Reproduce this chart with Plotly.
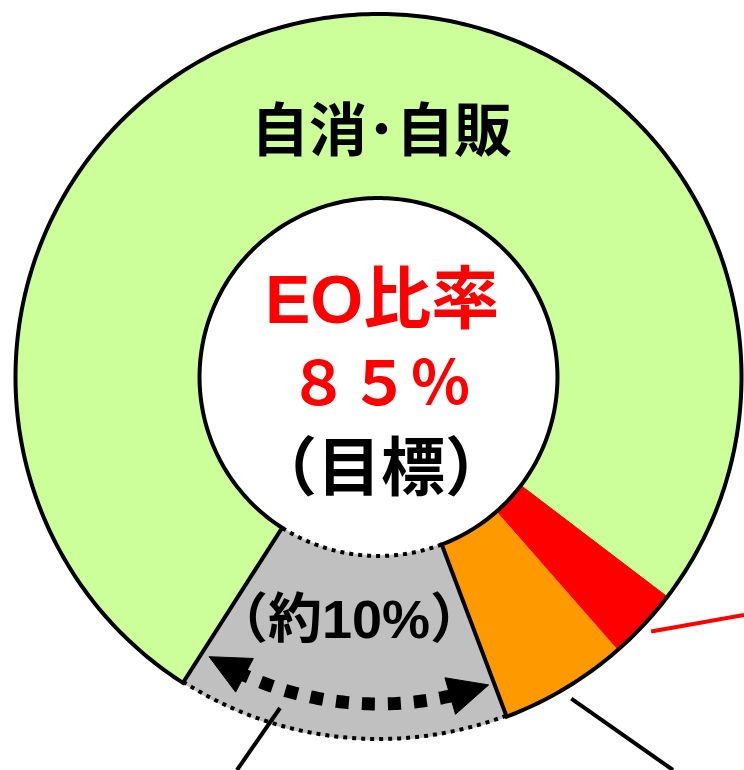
import math
import plotly.graph_objects as go

# Share of each channel (percent), clockwise starting at the left edge of the grey block
categories = ["自消・自販", "赤", "橙", "その他"]
shares = [76.3, 3.2, 5.7, 14.8]
colors = ["#CCFF99", "#FF0000", "#FF9900", "#C0C0C0"]

ring_title = "自消･自販"
center_lines = ["EO比率", "８５％", "（目標）"]
grey_label = "（約10%）"

# Canvas / ring geometry (pixels)
W, H = 744, 770
CX, CY = 378.5, 377.0
R_OUT = 363.0
HOLE = 0.493
R_IN = R_OUT * HOLE
START_DEG = 212.6  # where the first slice begins, clockwise from 12 o'clock

total = sum(shares)


def slice_bounds(i):
    a0 = START_DEG + 360.0 * sum(shares[:i]) / total
    a1 = a0 + 360.0 * shares[i] / total
    return a0, a1


def pt(angle_deg, r):
    t = math.radians(angle_deg)
    return CX + r * math.sin(t), CY - r * math.cos(t)


def arc_pts(a0, a1, r, n=120):
    return [pt(a0 + (a1 - a0) * k / n, r) for k in range(n + 1)]


def to_path(pts, close=False):
    s = "M " + " L ".join(f"{x:.2f},{y:.2f}" for x, y in pts)
    return s + (" Z" if close else "")


domain = dict(
    x=[(CX - R_OUT) / W, (CX + R_OUT) / W],
    y=[1 - (CY + R_OUT) / H, 1 - (CY - R_OUT) / H],
)

fig = go.Figure()

# Coloured ring
fig.add_trace(go.Pie(
    labels=categories, values=shares, hole=HOLE, sort=False,
    direction="clockwise", rotation=START_DEG,
    marker=dict(colors=colors, line=dict(color=colors, width=1)),
    textinfo="none", hoverinfo="skip", showlegend=False, domain=domain,
))

# Invisible trace to anchor the pixel-space axes
fig.add_trace(go.Scatter(x=[0, W], y=[0, H], mode="markers",
                         marker=dict(opacity=0), hoverinfo="skip", showlegend=False))

shapes = []
g0, g1 = slice_bounds(3)

# Solid outline around the EO group (everything except the grey block)
eo_outline = arc_pts(g1, g0 + 360, R_OUT, 400) + arc_pts(g0 + 360, g1, R_IN, 300)
shapes.append(dict(type="path", path=to_path(eo_outline, close=True), xref="x", yref="y",
                   line=dict(color="black", width=4), layer="above"))

# Dotted inner/outer arcs of the grey block
for r in (R_OUT - 1, R_IN):
    shapes.append(dict(type="path", path=to_path(arc_pts(g0, g1, r)), xref="x", yref="y",
                       line=dict(color="black", width=4, dash="4px,5px"), layer="above"))

# Double-headed dotted arrow spanning the grey block
R_ARROW = 327.0
tip_l, tip_r = g1 - 1.4, g0 + 1.0
head_len, head_w = 40.0, 38.0
d_head = math.degrees(head_len / R_ARROW)
shapes.append(dict(type="path",
                   path=to_path(arc_pts(tip_l - d_head + 1.5, tip_r + d_head - 1.5, R_ARROW, 80)),
                   xref="x", yref="y",
                   line=dict(color="black", width=13, dash="13px,13px"), layer="above"))


def head(tip_deg, back_deg):
    tx, ty = pt(tip_deg, R_ARROW)
    bx, by = pt(back_deg, R_ARROW)
    dx, dy = tx - bx, ty - by
    L = math.hypot(dx, dy)
    nx, ny = -dy / L * head_w / 2, dx / L * head_w / 2
    return to_path([(tx, ty), (bx + nx, by + ny), (bx - nx, by - ny)], close=True)


for tip, back in ((tip_l, tip_l - d_head), (tip_r, tip_r + d_head)):
    shapes.append(dict(type="path", path=head(tip, back), xref="x", yref="y",
                       fillcolor="black", line=dict(color="black", width=1), layer="above"))

# Leader lines toward labels outside the view
red_mid = sum(slice_bounds(1)) / 2
org_mid = sum(slice_bounds(2)) / 2
leaders = [
    (pt(red_mid, R_OUT + 10), (744, 615), "#FF0000"),
    (pt(org_mid, R_OUT + 12), (673, 770), "black"),
    ((280, 708), (237, 770), "black"),
]
for (x0, y0), (x1, y1), c in leaders:
    shapes.append(dict(type="line", x0=x0, y0=y0, x1=x1, y1=y1, xref="x", yref="y",
                       line=dict(color=c, width=4), layer="above"))

FONT = "Liberation Sans, Noto Sans CJK JP"
annotations = [
    dict(x=381, y=130, text=f"<b>{ring_title}</b>", font=dict(size=58, color="black")),
    dict(x=382, y=299, text=f"<b>{center_lines[0]}</b>", font=dict(size=68, color="#FF0000")),
    dict(x=379, y=384, text=f"<b>{center_lines[1]}</b>", font=dict(size=61, color="#FF0000")),
    dict(x=381, y=468, text=f"<b>{center_lines[2]}</b>", font=dict(size=64, color="black")),
    dict(x=349, y=619, text=f"<b>{grey_label}</b>", font=dict(size=54, color="black")),
]
for a in annotations:
    a.update(xref="x", yref="y", showarrow=False, xanchor="center", yanchor="middle")
    a["font"]["family"] = FONT

fig.update_layout(
    width=W, height=H, margin=dict(l=0, r=0, t=0, b=0),
    paper_bgcolor="white", plot_bgcolor="rgba(0,0,0,0)",
    xaxis=dict(range=[0, W], visible=False, fixedrange=True),
    yaxis=dict(range=[H, 0], visible=False, fixedrange=True),
    shapes=shapes, annotations=annotations,
)

fig.write_html("out.html")
